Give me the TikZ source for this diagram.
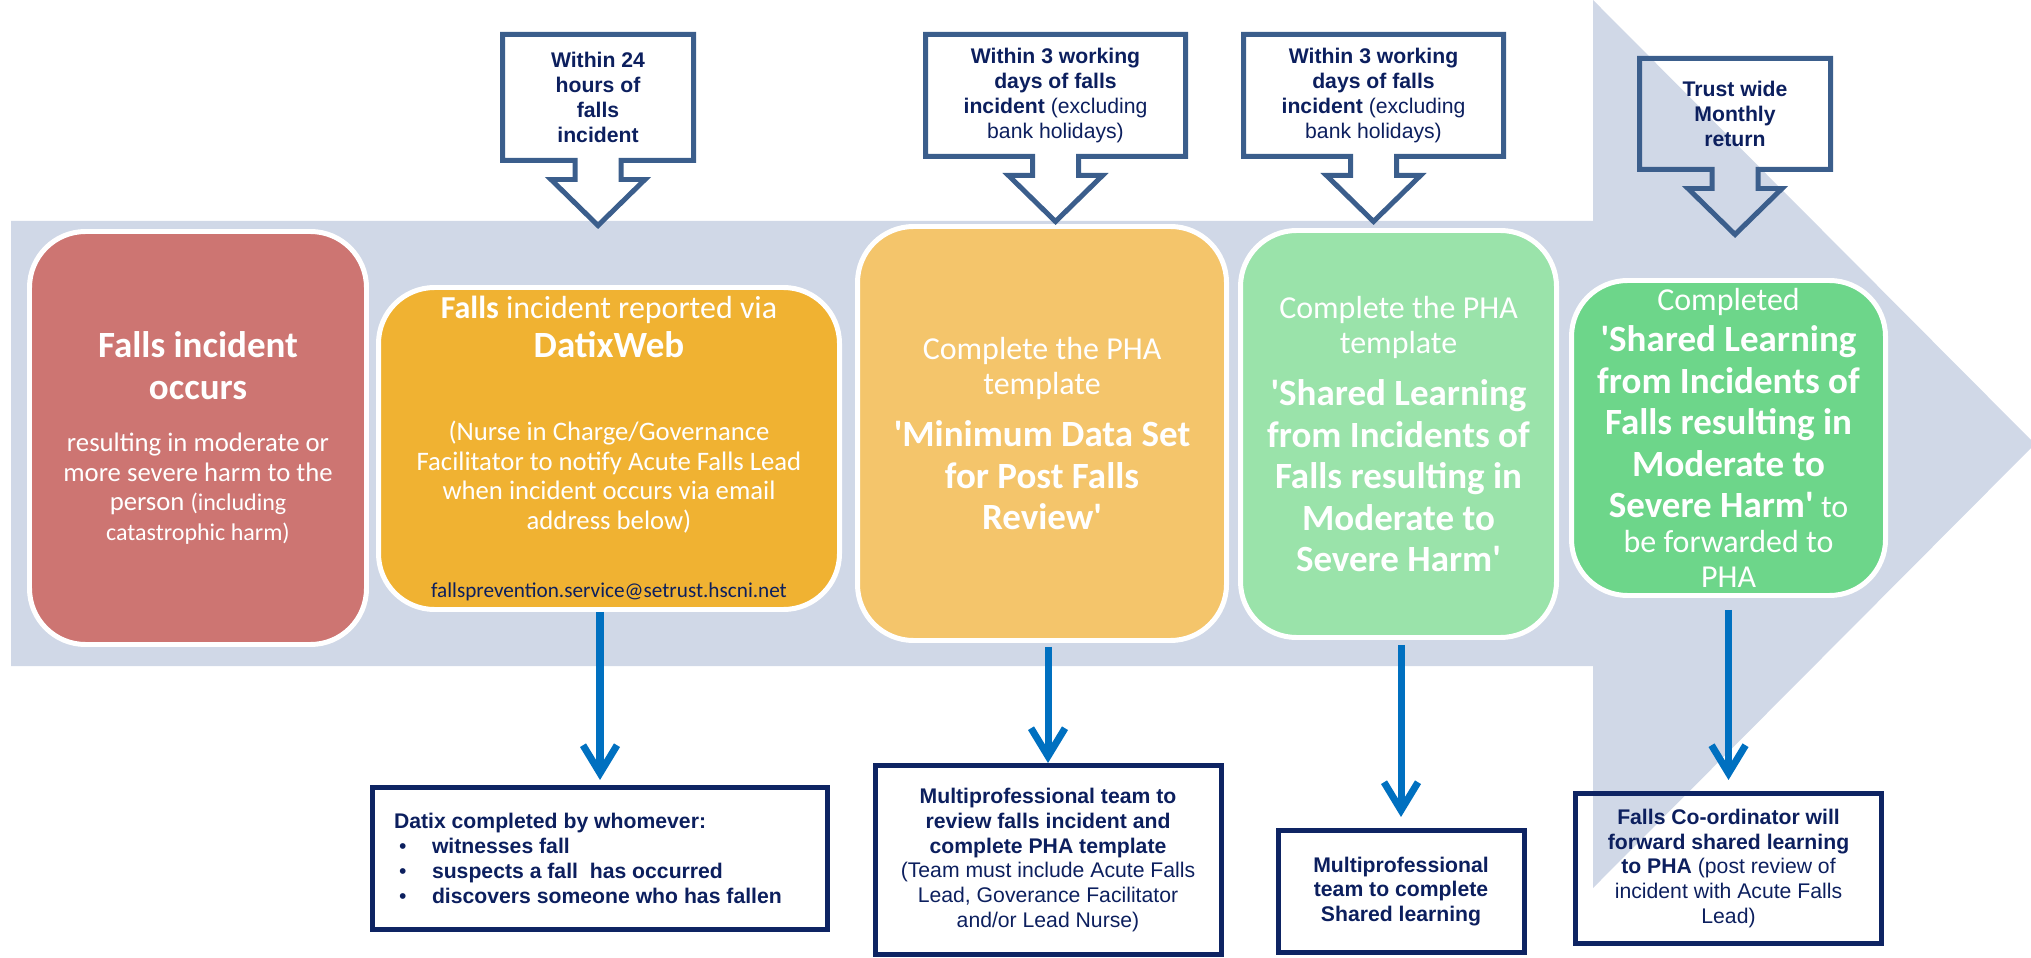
\documentclass[tikz,border=0pt]{standalone}
\usepackage{fontspec}
\setmainfont{Carlito}
\newfontfamily\arialfont{Liberation Sans}
\usetikzlibrary{arrows.meta,positioning,calc}
\definecolor{Band}{HTML}{D0D8E7}
\definecolor{Rose}{HTML}{CD7572}
\definecolor{Amber}{HTML}{F0B232}
\definecolor{Sand}{HTML}{F4C56B}
\definecolor{Mint}{HTML}{9AE3AA}
\definecolor{Leaf}{HTML}{6DD68A}
\definecolor{Steel}{HTML}{3B5E8C}
\definecolor{Navy}{HTML}{0C1F5E}
\definecolor{Frame}{HTML}{0E2463}
\definecolor{Signal}{HTML}{0070C0}
\newcommand{\qmark}{\textquotesingle}
\newcommand{\titlesize}{\fontsize{10.53}{11.8}\selectfont\bfseries}
\newcommand{\leadsize}{\fontsize{9.1}{10}\selectfont}
\newcommand{\bodysize}{\fontsize{7.6}{8.4}\selectfont}
\newcommand{\notesize}{\arialfont\fontsize{6.03}{7.05}\selectfont}
\newcommand{\bulletpt}{\hspace*{0.5mm}\makebox[3.3mm][l]{\textbullet}}
% outline of a box with a down arrow under it
\newcommand{\calloutframe}[1]{%
  \draw[calloutline] ($(#1.south)+(-23,0)$) -- (#1.south west) -- (#1.north west)
    -- (#1.north east) -- (#1.south east) -- ($(#1.south)+(23,0)$) -- ++(0,19)
    -- ++(24,0) -- ($(#1.south)+(0,65)$) -- ($(#1.south)+(-47,19)$) -- ++(24,0) -- cycle;}
\tikzset{
  stepbox/.style={
    rounded corners=5.6mm,draw=white,line width=1.42pt,
    text=white,align=flush center,inner sep=0pt,
    execute at begin node=\setlength{\parindent}{0pt}
  },
  callout/.style={inner sep=0pt,outer sep=0pt,align=center,font=\notesize,text=Navy},
  calloutline/.style={draw=Steel,line width=1.42pt},
  outbox/.style={
    draw=Frame,line width=1.42pt,inner sep=0pt,align=flush center,
    font=\notesize,text=Navy
  },
  flowarrow/.style={-{Straight Barb[length=2.8mm,width=3.4mm]},line width=2pt,draw=Signal}
}
\begin{document}
\begin{tikzpicture}[x=0.1mm,y=-0.1mm]
  \useasboundingbox (0,0) rectangle (2031,958);
  \clip (0,0) rectangle (2031,958);

  % big background arrow
  \fill[Band] (11,221) -- (1593,221) -- (1593,0) -- (2035,444) -- (1593,888)
    -- (1593,666) -- (11,666) -- cycle;

  % steps
  \node[stepbox,fill=Rose,minimum width=33.7mm,minimum height=41.3mm,text width=32mm]
    (occur) at (198,438) {%
      {\titlesize Falls incident\\occurs\par}
      \vspace{6.5pt}
      {\bodysize resulting in moderate or\\more severe harm to the\\person
        {\fontsize{6.83}{8.4}\selectfont(including\\catastrophic harm)}\par}};
  \node[stepbox,fill=Amber,minimum width=46.1mm,minimum height=32.2mm,text width=44mm]
    (report) at (609,448.5) {%
      {\leadsize\textbf{Falls} incident reported via\par}
      {\fontsize{10.53}{11.1}\selectfont\bfseries DatixWeb\par}
      \vspace{15.2pt}
      {\bodysize (Nurse in Charge/Governance\\Facilitator to notify Acute Falls Lead\\
        when incident occurs via email\\address below)\par}
      \vspace{12.35pt}
      {\fontsize{6.03}{7}\selectfont\color{Navy}fallsprevention.service@setrust.hscni.net\par}};
  \node[stepbox,fill=Sand,minimum width=36.9mm,minimum height=41.4mm,text width=35mm]
    (mds) at (1042,433.5) {%
      {\leadsize Complete the PHA\\template\par}
      \vspace{3pt}
      {\titlesize\qmark Minimum Data Set\\for Post Falls\\Review\qmark\par}};
  \node[stepbox,fill=Mint,minimum width=31.6mm,minimum height=40.7mm,text width=30mm]
    (share) at (1398.5,434) {%
      {\leadsize Complete the PHA\\template\par}
      \vspace{3pt}
      {\titlesize\qmark Shared Learning\\from Incidents of\\Falls resulting in\\
        Moderate to\\Severe Harm\qmark\par}};
  \node[stepbox,fill=Leaf,minimum width=31.4mm,minimum height=31.5mm,text width=30mm]
    (forward) at (1728.5,438) {%
      {\leadsize Completed\par}
      {\titlesize\qmark Shared Learning\\from Incidents of\\Falls resulting in\\Moderate to\par}
      \vspace{1.7pt}
      {\leadsize{\fontsize{10.53}{10}\selectfont\bfseries Severe Harm\qmark} to\\
        be forwarded to\\PHA\par}};

  % time frames
  \node[callout,minimum width=19.1mm,minimum height=12.6mm] (due24) at (598,97.5)
    {\textbf{Within 24}\\\textbf{hours of}\\\textbf{falls}\\\textbf{incident}};
  \node[callout,minimum width=26mm,minimum height=12.2mm] (due3a) at (1055.5,95.5)
    {\textbf{Within 3 working}\\\textbf{days of falls}\\\textbf{incident} (excluding\\bank holidays)};
  \node[callout,minimum width=26mm,minimum height=12.2mm] (due3b) at (1373.5,95.5)
    {\textbf{Within 3 working}\\\textbf{days of falls}\\\textbf{incident} (excluding\\bank holidays)};
  \node[callout,minimum width=19.1mm,minimum height=11.1mm] (monthly) at (1735,114)
    {\textbf{Trust wide}\\\textbf{Monthly}\\\textbf{return}};
  \foreach \c in {due24,due3a,due3b,monthly}{\calloutframe{\c}}

  % actions
  \node[outbox,align=flush left,minimum width=45.5mm,minimum height=14.2mm,text width=41.2mm,
    below=17.3mm of report,xshift=-0.9mm] (datix) {%
      \textbf{Datix completed by whomever:}\\
      \bulletpt\textbf{witnesses fall}\\
      \bulletpt\textbf{suspects a fall~ has occurred}\\
      \bulletpt\textbf{discovers someone who has fallen}};
  \node[outbox,minimum width=34.6mm,minimum height=18.9mm,text width=33mm,
    below=12mm of mds,xshift=0.6mm] (review) {%
      \textbf{Multiprofessional team to}\\\textbf{review falls incident and}\\
      \textbf{complete PHA template}\\(Team must include Acute Falls\\
      Lead, Goverance Facilitator\\and/or Lead Nurse)};
  \node[outbox,minimum width=24.6mm,minimum height=12.2mm,text width=22mm,
    below=18.8mm of share,xshift=0.25mm] (learn) {%
      \textbf{Multiprofessional}\\\textbf{team to complete}\\\textbf{Shared learning}};
  \node[outbox,minimum width=30.6mm,minimum height=15mm,text width=28mm,
    below=19.3mm of forward] (coord) {%
      \textbf{Falls Co-ordinator will}\\\textbf{forward shared learning}\\
      \textbf{to PHA} (post review of\\incident with Acute Falls\\Lead)};

  \draw[flowarrow,shorten >=0.5mm] (report.south -| datix.north) -- (datix.north);
  \draw[flowarrow,shorten <=0.4mm] (mds.south -| review.north) -- (review.north);
  \draw[flowarrow,shorten <=0.5mm,shorten >=1.1mm] (share.south -| learn.north) -- (learn.north);
  \draw[flowarrow,shorten <=1.2mm,shorten >=1.1mm] (forward.south -| coord.north) -- (coord.north);
\end{tikzpicture}
\end{document}
